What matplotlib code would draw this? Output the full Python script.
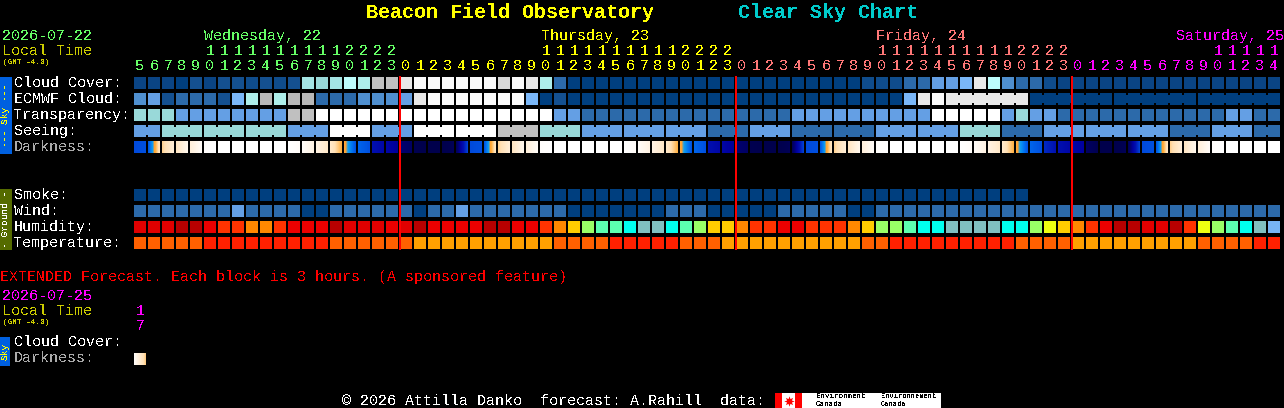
import numpy as np
import matplotlib
matplotlib.use("Agg")
import matplotlib.pyplot as plt
from matplotlib.colors import LinearSegmentedColormap
from matplotlib.patches import Rectangle

# ---------- data ----------
days = ["Wednesday, 22", "Thursday, 23", "Friday, 24", "Saturday, 25"]
wed_hours = [5,6,7,8,9,10,11,12,13,14,15,16,17,18,19,20,21,22,23]
thu_hours = [0,1,2,3,4,5,6,7,8,9,10,11,12,13,14,15,16,17,18,19,20,21,22,23]
fri_hours = [0,1,2,3,4,5,6,7,8,9,10,11,12,13,14,15,16,17,18,19,20,21,22,23]
sat_hours = [0,1,2,3,4,5,6,7,8,9,10,11,12,13,14]

# levels index the sky palette below
cloud = [1,1,1,0,3,1,3,3,2,3,2,3,9,8,9,11,10,13,13,15,16,16,16,16,16,16,14,16,15,10,4,
         0,0,0,0,0,0,0,0,0,0,0,0,0,0,0,0,0,0,0,0,0,
         2,2,2,4,4,6,6,7,15,11,5,4,4,2,1,
         1,1,1,1,1,1,1,1,1,1,1,1,1,1,1]
ecmwf = [5,6,3,4,4,4,3,7,10,12,10,12,12,4,4,4,5,5,5,6,15,
         16,16,16,16,16,16,16,7,0,3,
         0,0,0,0,0,0,0,0,0,0,0,0,0,0,0,0,0,0,0,0,0,
         0,0,0,7,15,16,15,15,15,15,15,15,
         0,0,0,0,0,0,0,0,0,0,0,0,0,0,0,0,0,0]
transparency = [8,8,8,6,6,6,6,6,6,6,6,13,13,
                17,17,17,17,17,17,17,17,17,17,17,17,17,17,17,17,17,
                6,6,4,4,4,4,4,4,4,4,4,4,4,4,4,4,4,
                6,6,6,6,6,6,6,6,6,6,17,17,17,17,17,6,8,6,6,4,
                4,4,4,4,4,4,4,4,4,4,4,6,6,4,4]
seeing = [6,6,8,8,8,8,8,8,8,8,8,6,6,6,17,17,17,6,6,6,17,17,17,17,17,17,
          13,13,13,8,8,8,6,6,6,6,6,6,6,6,6,4,4,4,6,6,6,4,4,4,4,4,4,
          6,6,6,6,6,6,8,8,8,4,4,4,6,6,6,6,6,6,6,6,6,4,4,4,6,6,6,4,4]
smoke = [0,0,0,0,0,0,0,0,0,0,0,0,0,0,0,0,0,0,0,0,0,0,0,0,0,0,0,0,0,0,0,0,
         0,0,0,0,0,0,0,0,0,0,0,0,0,0,0,0,0,0,0,0,0,0,0,0,0,0,0,0,0,0,0,0]
wind = [4,4,4,4,4,4,4,6,4,4,4,4,0,0,4,4,4,4,4,4,0,4,4,6,4,4,4,4,4,4,4,
        0,0,0,0,0,0,0,4,4,4,0,0,0,0,0,4,4,4,4,4,0,0,
        4,4,4,4,4,4,4,4,4,4,4,4,4,4,4,4,4,4,4,4,4,4,4,4,4,4,4,4,4]
humidity = [1,1,1,0,0,2,3,3,4,4,3,2,2,2,0,1,1,1,2,1,0,
            2,2,2,2,0,0,2,2,3,4,5,6,7,7,8,9,9,8,7,6,5,5,4,3,3,2,2,3,3,3,4,
            5,6,6,7,8,8,9,9,9,9,8,8,6,10,5,4,3,2,0,0,1,1,0,3,10,6,7,8,9,11]
temperature = [1,1,1,1,1,2,2,2,2,2,2,2,2,2,1,1,1,1,1,1,0,
               0,0,0,0,0,0,0,0,0,1,1,1,1,2,2,2,2,2,1,1,1,0,0,0,0,0,0,0,0,0,0,
               1,1,2,2,2,2,2,2,2,2,2,1,1,1,1,
               0,0,0,0,0,0,0,0,0,1,1,1,1,2,2]
darkness_start = [5.1,5.0,2.3,1.7,1.1,0.1,0,0,0,0,0,0,0.2,0.8,1.4,2.9,4.6,6.0,6.3,7.0,7.5,7.6,7.6,7.4,
                  5.1,5.0,2.3,1.7,1.1,0.1,0,0,0,0,0,0,0.2,0.8,1.4,2.9,4.6,6.0,6.3,7.0,7.5,7.6,7.6,7.4,
                  5.1,5.0,2.3,1.7,1.1,0.1,0,0,0,0,0,0,0.2,0.8,1.4,2.9,4.6,5.6,6.0,6.3,7.2,7.6,7.6,7.4,
                  5.1,5.0,2.3,1.7,1.1,0.1,0,0,0,0]
darkness_end = [5.0,1.6,1.1,0.5,0.2,0,0,0,0,0,0,0.2,0.8,1.5,2.8,5.0,5.0,6.3,6.6,7.2,7.6,7.6,7.4,5.2,
                5.0,1.6,1.1,0.5,0.2,0,0,0,0,0,0,0.2,0.8,1.5,2.8,5.0,5.0,6.3,6.6,7.2,7.6,7.6,7.4,5.2,
                5.0,1.6,1.1,0.5,0.2,0,0,0,0,0,0,0.2,0.8,1.5,2.8,5.0,5.0,6.0,6.3,6.5,7.5,7.6,7.4,5.2,
                5.0,1.6,1.1,0.5,0.2,0,0,0,0,0]
extended_darkness_start = [0.1]
extended_darkness_end = [2.4]

sky_labels = ["Cloud Cover:", "ECMWF Cloud:", "Transparency:", "Seeing:"]
ground_labels = ["Smoke:", "Wind:", "Humidity:", "Temperature:"]

# ---------- styles ----------
SKY = ["#003f7f","#0a4484","#0f4c8c","#145090","#2c6aaa","#4f8fcf","#649fe4","#7ab7f8",
       "#99d9d9","#a4e4e4","#aeeeea","#bdfdfd","#b8b8b8","#c0c0c0","#d8d8d8","#e8e8e8","#fafafa","#ffffff"]
HUM = ["#b80000","#e00000","#ec0000","#ff3300","#ff8800","#ffcc00","#99ff66","#5cffb0",
       "#00ffee","#80c0c0","#eeff11","#77b4f4"]
TEMP = ["#ffa000","#ff6000","#ff2000"]
DAY_COL = ["#66ff66","#ffff00","#ff7777","#ff00ff"]
MONO = "Liberation Mono"
W, H = 1284, 408
X0, STEP, CELL = 134, 14, 12

plt.rcParams["text.antialiased"] = False

cmap_stops = [(0,"#ffffff"),(1,"#fff0dc"),(2,"#ffe0b4"),(2.8,"#ffb040"),(3.2,"#ffa030"),
              (3.6,"#10a0f0"),(4.4,"#0070f0"),(5,"#0050e0"),(6,"#0010b0"),(6.5,"#0000a0"),
              (7,"#000070"),(7.5,"#000050"),(8,"#000040")]
dark_cmap = LinearSegmentedColormap.from_list("dark", [(v/8, c) for v, c in cmap_stops], N=512)

fig = plt.figure(figsize=(W/100, H/100), dpi=100, facecolor="black")
ax = fig.add_axes([0, 0, 1, 1])
ax.set_facecolor("black")
ax.axis("off")


def txt(x, y, s, color="white", size=10.8, **kw):
    kw.setdefault("va", "center")
    kw.setdefault("ha", "left")
    ax.text(x, y + 1, s, color=color, fontsize=size, family=MONO, **kw)


def box(x, y, w, h, color, z=2):
    ax.add_patch(Rectangle((x, y), w, h, facecolor=color, edgecolor="none", linewidth=0,
                           antialiased=False, zorder=z))


def draw_row(values, palette, top, block=None):
    for c, v in enumerate(values):
        x = X0 + c * STEP
        box(x, top, CELL, CELL, palette[v])
        if block is not None and c + 1 < len(values) and values[c + 1] == v:
            a, b = block(c), block(c + 1)
            if a is not None and a == b:
                box(x + CELL, top + 2, STEP - CELL, CELL - 4, palette[v])


def draw_dark(starts, ends, top):
    for c, (a, b) in enumerate(zip(starts, ends)):
        x = X0 + c * STEP
        ax.imshow(np.linspace(a, b, 48)[None, :], cmap=dark_cmap, vmin=0, vmax=8, aspect="auto",
                  extent=(x, x + CELL, top + CELL, top), interpolation="nearest", zorder=2)


# grid rows
draw_row(cloud, SKY, 77)
draw_row(ecmwf, SKY, 93, block=lambda c: None if c < 58 else (c - 58) // 6)
draw_row(transparency, SKY, 109)
draw_row(seeing, SKY, 125, block=lambda c: (c + 1) // 3)
draw_dark(darkness_start, darkness_end, 141)
draw_row(smoke, SKY, 189)
draw_row(wind, SKY, 205)
draw_row(humidity, HUM, 221)
draw_row(temperature, TEMP, 237)
draw_dark(extended_darkness_start, extended_darkness_end, 353)

# hour header and midnight lines
col = 0
for hours, colr in zip([wed_hours, thu_hours, fri_hours, sat_hours], DAY_COL):
    if col > 0:
        ax.plot([X0 + col * STEP] * 2, [76, 250], color="#ff0000", lw=1.44, solid_capstyle="butt",
                antialiased=False, zorder=4)
    for h in hours:
        cx = X0 + col * STEP + 6
        if h >= 10:
            txt(cx, 50, str(h // 10), colr, ha="center")
        txt(cx, 65, str(h % 10), colr, ha="center")
        col += 1

# titles
txt(366, 12, "Beacon Field Observatory", "#ffff00", 14.4, weight="bold")
txt(738, 12, "Clear Sky Chart", "#00cccc", 14.4, weight="bold")

txt(2, 35, "2026-07-22", DAY_COL[0])
txt(2, 50, "Local Time", "#cccc00")
txt(3, 61, "(GMT -4.0)", "#cccc00", 5.6)
for x, d, c in zip([204, 541, 876, 1176], days, DAY_COL):
    txt(x, 35, d, c)

for y, s in zip([82, 98, 114, 130], sky_labels):
    txt(14, y, s)
txt(14, 146, "Darkness:", "#aaaaaa")
for y, s in zip([194, 210, 226, 242], ground_labels):
    txt(14, y, s)

# side bars
box(0, 77, 12, 77, "#0060e0")
txt(6, 114, "--- Sky ---", "#ffff00", 6.8, rotation=90, ha="center")
box(0, 189, 12, 61, "#556b00")
txt(6, 218, "- Ground -", "white", 6.8, rotation=90, ha="center")
box(0, 337, 10, 29, "#0060e0")
txt(5, 350, "Sky", "#ffff00", 6.8, rotation=90, ha="center")

# extended forecast
txt(0, 276, "EXTENDED Forecast. Each block is 3 hours. (A sponsored feature)", "#ff0000")
txt(2, 295, "2026-07-25", DAY_COL[3])
txt(2, 310, "Local Time", "#cccc00")
txt(3, 321, "(GMT -4.0)", "#cccc00", 5.6)
txt(140, 310, "1", DAY_COL[3], ha="center")
txt(140, 325, "7", DAY_COL[3], ha="center")
txt(14, 341, "Cloud Cover:")
txt(14, 357, "Darkness:", "#aaaaaa")

# footer
txt(342, 400, "\u00a9 2026 Attilla Danko  forecast: A.Rahill  data:")
box(775, 393, 166, 15, "white")
box(775, 393, 7, 15, "#ff0000", z=3)
box(795, 393, 7, 15, "#ff0000", z=3)
ax.scatter([788.5], [400.5], s=55, marker=(8, 1, 0), color="#ff0000", linewidths=0, zorder=3)
txt(816, 396, "Environment", "black", 5.4, zorder=4)
txt(816, 403, "Canada", "black", 5.4, zorder=4)
txt(881, 396, "Environnement", "black", 5.0, zorder=4)
txt(881, 403, "Canada", "black", 5.0, zorder=4)

ax.set_xlim(0, W)
ax.set_ylim(H, 0)
fig.savefig("out.png", dpi=100, facecolor="black")
